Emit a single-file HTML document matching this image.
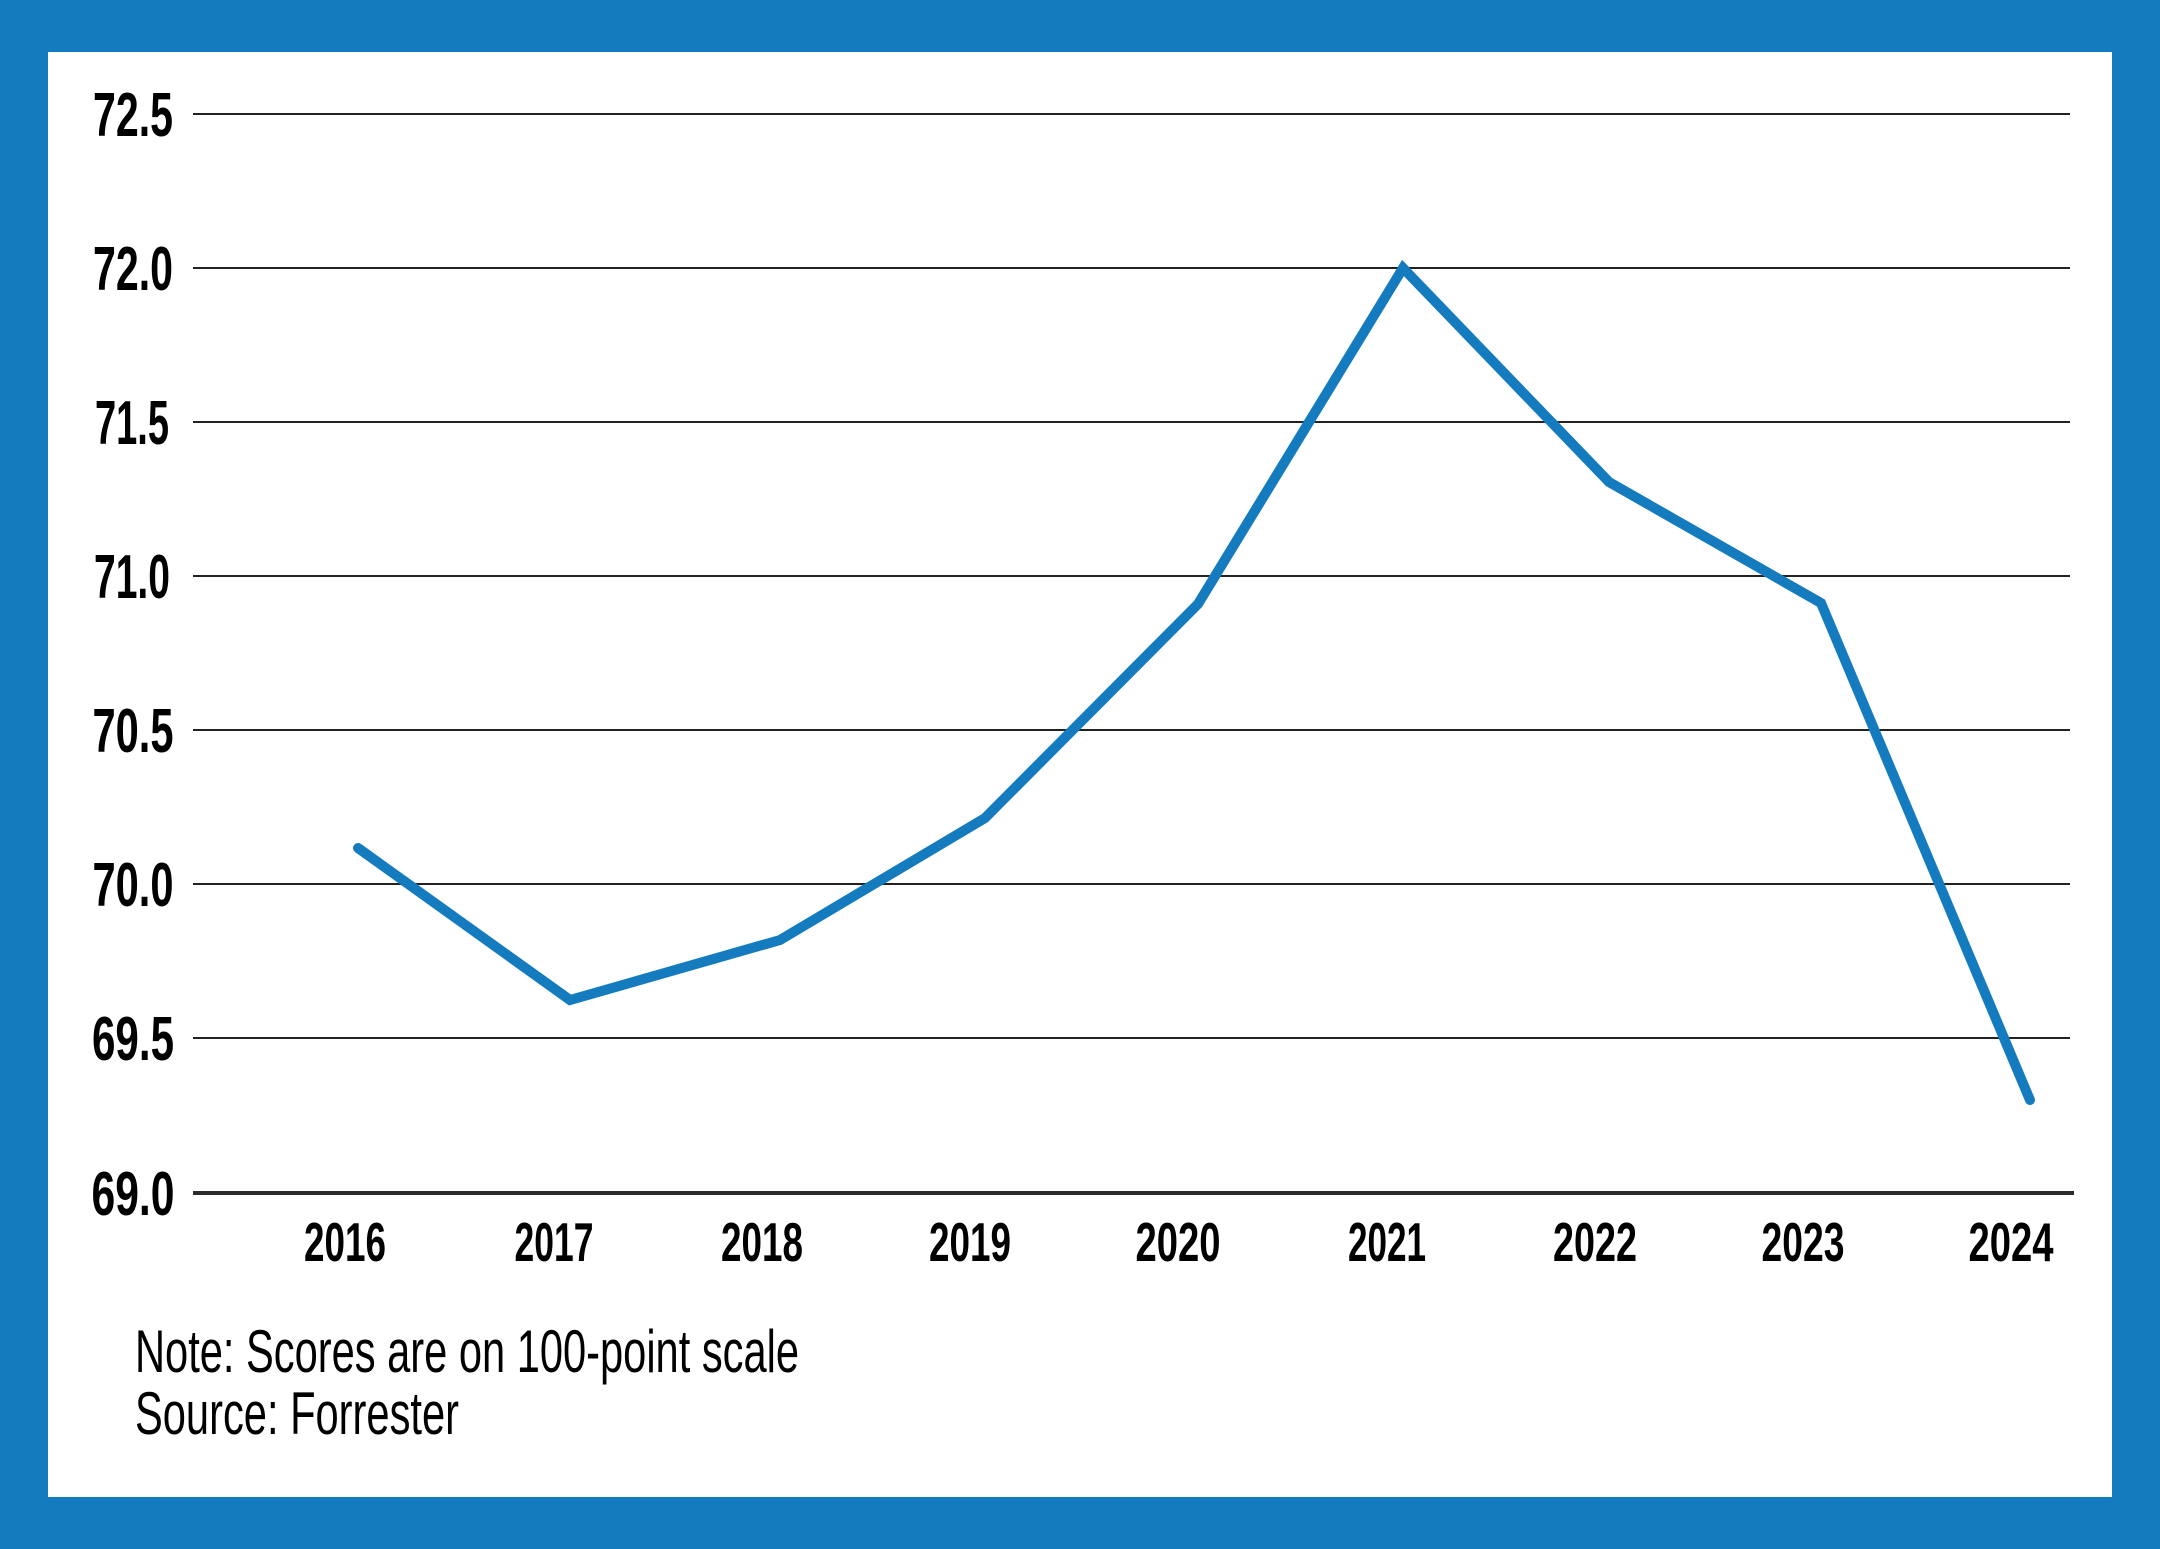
<!DOCTYPE html>
<html>
<head>
<meta charset="utf-8">
<style>
  html, body { margin: 0; padding: 0; background: #147bbf; }
  body { width: 2160px; height: 1549px; overflow: hidden; }
  svg { display: block; }
  .yl { font-family: "Liberation Sans Narrow", "Liberation Sans", sans-serif; font-weight: bold; font-size: 62px; fill: #000; }
  .xl { font-family: "Liberation Sans Narrow", "Liberation Sans", sans-serif; font-weight: bold; font-size: 55px; fill: #000; }
  .nt { font-family: "Liberation Sans Narrow", "Liberation Sans", sans-serif; font-weight: normal; font-size: 60px; fill: #000; }
</style>
</head>
<body>
<svg width="2160" height="1549" viewBox="0 0 2160 1549" xmlns="http://www.w3.org/2000/svg">
  <rect x="0" y="0" width="2160" height="1549" fill="#147bbf"/>
  <rect x="48" y="52" width="2064" height="1445" fill="#ffffff"/>

  <!-- gridlines -->
  <g stroke="#222222" stroke-width="2">
    <line x1="193" y1="114" x2="2070" y2="114"/>
    <line x1="193" y1="268" x2="2070" y2="268"/>
    <line x1="193" y1="422" x2="2070" y2="422"/>
    <line x1="193" y1="576" x2="2070" y2="576"/>
    <line x1="193" y1="730" x2="2070" y2="730"/>
    <line x1="193" y1="884" x2="2070" y2="884"/>
    <line x1="193" y1="1038" x2="2070" y2="1038"/>
  </g>
  <line x1="193" y1="1193" x2="2074" y2="1193" stroke="#2a2a2a" stroke-width="4"/>

  <!-- y labels -->
  <g class="yl" text-anchor="middle">
    <text x="133" y="136" textLength="80" lengthAdjust="spacingAndGlyphs">72.5</text>
    <text x="133" y="290" textLength="80" lengthAdjust="spacingAndGlyphs">72.0</text>
    <text x="132" y="444" textLength="74" lengthAdjust="spacingAndGlyphs">71.5</text>
    <text x="132" y="598" textLength="76" lengthAdjust="spacingAndGlyphs">71.0</text>
    <text x="133" y="752" textLength="81" lengthAdjust="spacingAndGlyphs">70.5</text>
    <text x="133" y="906" textLength="81" lengthAdjust="spacingAndGlyphs">70.0</text>
    <text x="133" y="1060" textLength="82" lengthAdjust="spacingAndGlyphs">69.5</text>
    <text x="133" y="1215" textLength="83" lengthAdjust="spacingAndGlyphs">69.0</text>
  </g>

  <!-- x labels -->
  <g class="xl" text-anchor="middle">
    <text x="345" y="1261" textLength="82" lengthAdjust="spacingAndGlyphs">2016</text>
    <text x="554" y="1261" textLength="79" lengthAdjust="spacingAndGlyphs">2017</text>
    <text x="762" y="1261" textLength="82" lengthAdjust="spacingAndGlyphs">2018</text>
    <text x="970" y="1261" textLength="82" lengthAdjust="spacingAndGlyphs">2019</text>
    <text x="1178" y="1261" textLength="85" lengthAdjust="spacingAndGlyphs">2020</text>
    <text x="1387" y="1261" textLength="78" lengthAdjust="spacingAndGlyphs">2021</text>
    <text x="1595" y="1261" textLength="84" lengthAdjust="spacingAndGlyphs">2022</text>
    <text x="1803" y="1261" textLength="83" lengthAdjust="spacingAndGlyphs">2023</text>
    <text x="2011" y="1261" textLength="85" lengthAdjust="spacingAndGlyphs">2024</text>
  </g>

  <!-- data line -->
  <polyline fill="none" stroke="#147bbf" stroke-width="10" stroke-linejoin="miter" stroke-miterlimit="10" stroke-linecap="round"
    points="358,848 570,1000 780,940 985,818 1198,604 1403,268 1609,482 1821,603 2030,1100"/>

  <!-- notes -->
  <text class="nt" x="135" y="1372" textLength="664" lengthAdjust="spacingAndGlyphs">Note: Scores are on 100-point scale</text>
  <text class="nt" x="135" y="1434" textLength="324" lengthAdjust="spacingAndGlyphs">Source: Forrester</text>
</svg>
</body>
</html>
